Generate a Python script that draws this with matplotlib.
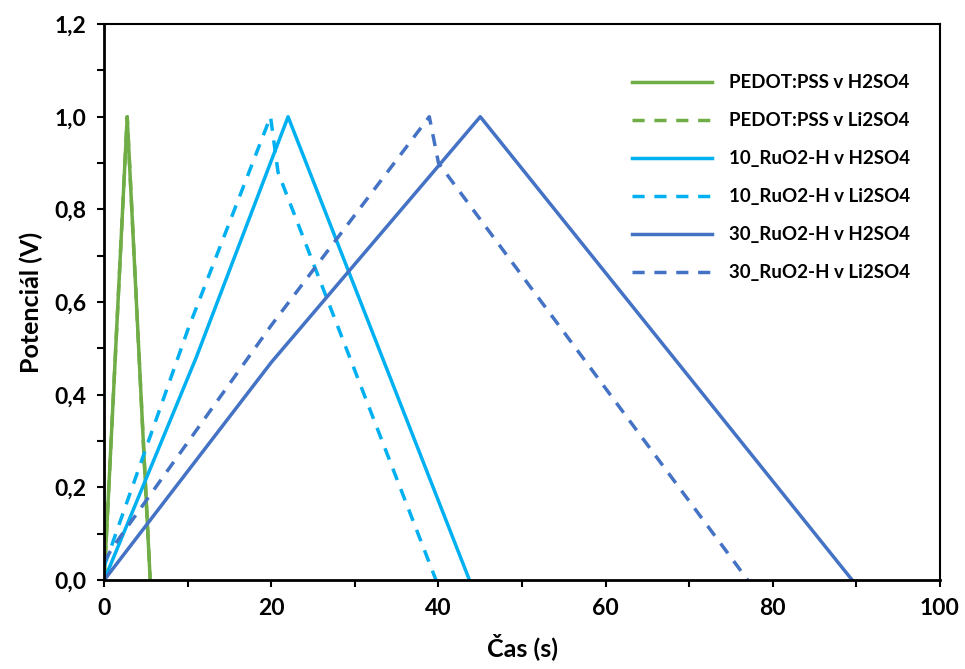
import matplotlib.pyplot as plt
from matplotlib.ticker import MultipleLocator, FuncFormatter

plt.rcParams['font.family'] = ['Lato', 'DejaVu Sans']
plt.rcParams['font.weight'] = 'bold'

# PEDOT:PSS (Li2SO4 curve lies under the H2SO4 one)
pedot_h_t = [0, 2.75, 5.5]
pedot_h_v = [0, 1.0, 0]
pedot_li_t = [0, 2.75, 5.5]
pedot_li_v = [0, 1.0, 0]

# 10_RuO2-H
ru10_h_t = [0, 11, 22, 43.7]
ru10_h_v = [0, 0.48, 1.0, 0]
ru10_li_t = [0, 0.8, 10, 19.9, 20.8, 39.7]
ru10_li_v = [0.03, 0.07, 0.54, 1.0, 0.88, 0]

# 30_RuO2-H
ru30_h_t = [0, 20, 45, 89.5]
ru30_h_v = [0, 0.47, 1.0, 0]
ru30_li_t = [0, 1, 20, 38.9, 40.0, 77]
ru30_li_v = [0.04, 0.07, 0.55, 1.0, 0.9, 0]

green = '#70AD47'
light = '#00B0F0'
dark = '#4472C4'
dash = (0, (3.5, 2.8))

fig, ax = plt.subplots(figsize=(9.65, 6.69), dpi=100)
fig.subplots_adjust(left=0.108, right=0.974, bottom=0.133, top=0.964)

ax.plot(pedot_li_t, pedot_li_v, color=green, lw=2.5, linestyle=dash, label='PEDOT:PSS v Li2SO4')
ax.plot(pedot_h_t, pedot_h_v, color=green, lw=2.5, label='PEDOT:PSS v H2SO4')
ax.plot(ru10_h_t, ru10_h_v, color=light, lw=2.5, label='10_RuO2-H v H2SO4')
ax.plot(ru10_li_t, ru10_li_v, color=light, lw=2.5, linestyle=dash, label='10_RuO2-H v Li2SO4')
ax.plot(ru30_h_t, ru30_h_v, color=dark, lw=2.5, label='30_RuO2-H v H2SO4')
ax.plot(ru30_li_t, ru30_li_v, color=dark, lw=2.5, linestyle=dash, label='30_RuO2-H v Li2SO4')

ax.set_xlim(0, 100)
ax.set_ylim(0, 1.2)
ax.xaxis.set_major_locator(MultipleLocator(20))
ax.xaxis.set_minor_locator(MultipleLocator(10))
ax.yaxis.set_major_locator(MultipleLocator(0.2))
ax.yaxis.set_minor_locator(MultipleLocator(0.1))
ax.yaxis.set_major_formatter(FuncFormatter(lambda v, p: f"{v:.1f}".replace('.', ',')))

ax.tick_params(which='both', direction='out', length=5, width=1.5, labelsize=16.5, pad=8)
for s in ax.spines.values():
    s.set_linewidth(1.5)
    s.set_color('black')
ax.spines['left'].set_linewidth(2)
ax.spines['bottom'].set_linewidth(2)

ax.set_xlabel('Čas (s)', fontsize=18, fontweight='bold', labelpad=10)
ax.set_ylabel('Potenciál (V)', fontsize=18, fontweight='bold', labelpad=8)

handles, labels = ax.get_legend_handles_labels()
order = [1, 0, 2, 3, 4, 5]
ax.legend([handles[i] for i in order], [labels[i] for i in order],
          loc='upper right', bbox_to_anchor=(0.985, 0.94), frameon=False,
          fontsize=13.5, handlelength=4.3, labelspacing=1.12, handletextpad=0.9)

plt.savefig('out.png', dpi=100)
